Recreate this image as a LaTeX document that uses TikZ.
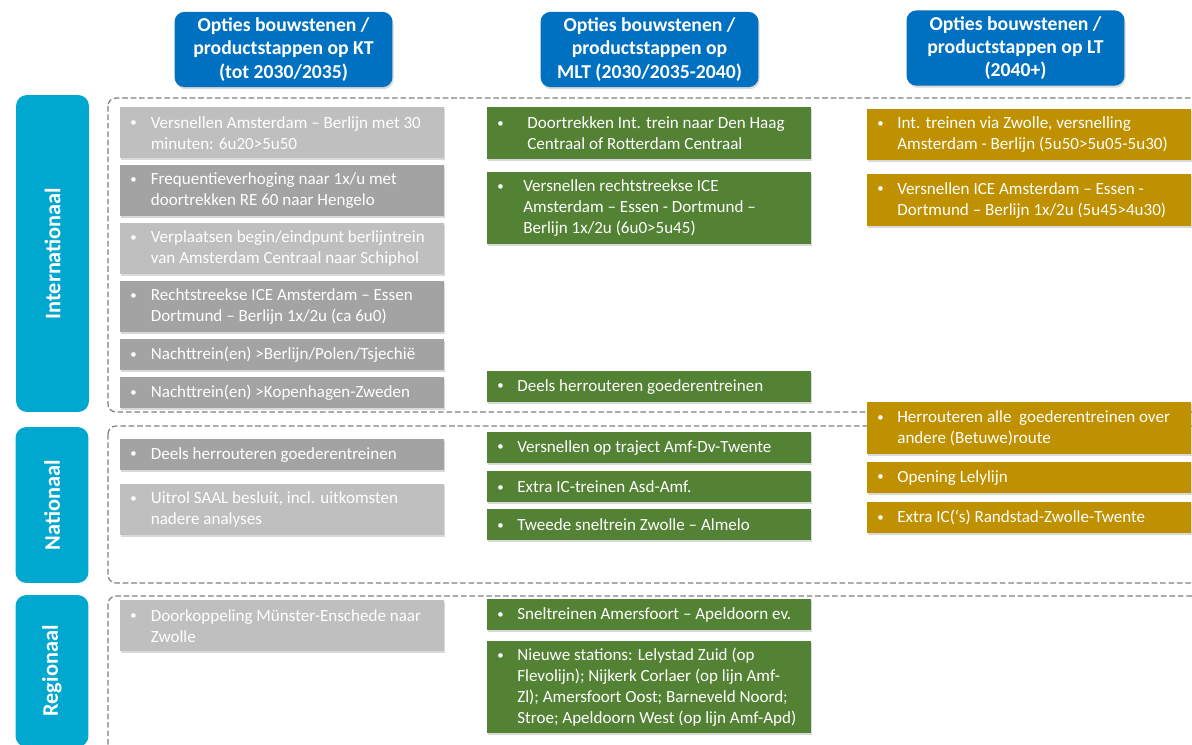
\documentclass[tikz,border=0pt]{standalone}
\usepackage{fontspec}
\setmainfont{Carlito}
\usepackage{xcolor}
\usetikzlibrary{positioning, shadows}

\definecolor{kopblauw}{HTML}{0070C0}
\definecolor{niveaublauw}{HTML}{00A7CE}
\definecolor{grijslicht}{HTML}{BFBFBF}
\definecolor{grijsdonker}{HTML}{A3A3A3}
\definecolor{middelgroen}{HTML}{548235}
\definecolor{langgoud}{HTML}{BF9000}
\definecolor{kadergrijs}{HTML}{7F7F7F}

\newcommand{\optie}[2][0.41cm]{\hspace*{0.2cm}\makebox[#1][l]{\raisebox{0.08em}{\scalebox{0.75}{\textbullet}}}\parbox[t]{\dimexpr 6.28cm-#1\relax}{\raggedright #2}}

\begin{document}
\begin{tikzpicture}[
            x=0.02cm, y=-0.02cm,
            schaduw/.style={drop shadow={shadow xshift=0.6pt, shadow yshift=-1.2pt, opacity=0.3}},
            kop/.style={rounded corners=0.2cm, fill=kopblauw, text=white, align=center,
                font=\bfseries\fontsize{11.2}{13.3}\selectfont,
                minimum width=4.36cm, minimum height=1.46cm, schaduw},
            niveau/.style={rounded corners=0.22cm, fill=niveaublauw, text=white, rotate=90,
                font=\bfseries\fontsize{12.7}{15}\selectfont, minimum height=1.46cm},
            kader/.style={draw=kadergrijs, line width=0.7pt, dash pattern=on 3.2pt off 1.6pt,
                rounded corners=0.16cm},
            optie/.style={anchor=north west, inner xsep=0pt, inner ysep=0pt, text=white,
                minimum width=6.48cm, font=\fontsize{9.7}{11.9}\selectfont, schaduw},
            enkel/.style={minimum height=0.62cm},
            dubbel/.style={minimum height=1.02cm},
            licht/.style={optie, fill=grijslicht},
            donker/.style={optie, fill=grijsdonker},
            groen/.style={optie, fill=middelgroen},
            goud/.style={optie, fill=langgoud},
        ]
            \useasboundingbox (0,0) rectangle (1192,744);
            \clip (0,0) rectangle (1192,744);

            \node[kop] (kopkt) at (283.5,49.5) {Opties bouwstenen /\\productstappen op KT\\(tot 2030/2035)};
            \node[kop] (kopmlt) at (649.5,49.5) {Opties bouwstenen /\\productstappen op\\MLT (2030/2035-2040)};
            \node[kop] (koplt) at (1015.5,48) {Opties bouwstenen /\\productstappen op LT\\(2040+)};

            \node[niveau, minimum width=6.34cm] (internationaal) at (52.5,253.5) {Internationaal};
            \node[niveau, minimum width=3.12cm] (nationaal) at (52,505) {Nationaal};
            \node[niveau, minimum width=3.04cm] (regionaal) at (52,671) {Regionaal};

            \draw[kader] (108,98) rectangle (1230,412);
            \draw[kader] (108,426) rectangle (1230,583);
            \draw[kader] (108,596) rectangle (1230,780);

            \node[licht, dubbel] (kt1) at (120,107) {\optie{Versnellen Amsterdam – Berlijn met 30\\minuten: 6u20>5u50}};
            \node[donker, dubbel] (kt2) at (120,165) {\optie{Frequentieverhoging naar 1x/u met\\doortrekken RE 60 naar Hengelo}};
            \node[licht, dubbel] (kt3) at (120,223) {\optie{Verplaatsen begin/eindpunt berlijntrein\\van Amsterdam Centraal naar Schiphol}};
            \node[donker, dubbel] (kt4) at (120,281) {\optie{Rechtstreekse ICE Amsterdam – Essen\\Dortmund – Berlijn 1x/2u (ca 6u0)}};
            \node[donker, enkel] (kt5) at (120,339) {\optie{Nachttrein(en) >Berlijn/Polen/Tsjechië}};
            \node[donker, enkel] (kt6) at (120,377) {\optie{Nachttrein(en) >Kopenhagen-Zweden}};
            \node[donker, enkel] (kt7) at (120,439) {\optie{Deels herrouteren goederentreinen}};
            \node[licht, dubbel] (kt8) at (120,484) {\optie{Uitrol SAAL besluit, incl. uitkomsten\\nadere analyses}};
            \node[licht, dubbel] (kt9) at (120,600) {\optie{Doorkoppeling Münster-Enschede naar\\Zwolle}};

            \node[groen, minimum height=1.04cm] (mlt1) at (487,107) {\optie[0.6cm]{Doortrekken Int. trein naar Den Haag\\Centraal of Rotterdam Centraal}};
            \node[groen, minimum height=1.44cm] (mlt2) at (487,172) {\optie[0.52cm]{Versnellen rechtstreekse ICE\\Amsterdam – Essen - Dortmund –\\Berlijn 1x/2u (6u0>5u45)}};
            \node[groen, enkel] (mlt3) at (487,371) {\optie[0.4cm]{Deels herrouteren goederentreinen}};
            \node[groen, enkel] (mlt4) at (487,432) {\optie[0.4cm]{Versnellen op traject Amf-Dv-Twente}};
            \node[groen, enkel] (mlt5) at (487,471) {\optie[0.4cm]{Extra IC-treinen Asd-Amf.}};
            \node[groen, enkel] (mlt6) at (487,509) {\optie[0.4cm]{Tweede sneltrein Zwolle – Almelo}};
            \node[groen, enkel] (mlt7) at (487,599) {\optie[0.4cm]{Sneltreinen Amersfoort – Apeldoorn ev.}};
            \node[groen, minimum height=1.84cm] (mlt8) at (487,641) {\optie[0.4cm]{Nieuwe stations: Lelystad Zuid (op\\Flevolijn); Nijkerk Corlaer (op lijn Amf-\\Zl); Amersfoort Oost; Barneveld Noord;\\Stroe; Apeldoorn West (op lijn Amf-Apd)}};

            \node[goud, dubbel] (lt1) at (867,109) {\optie[0.4cm]{Int. treinen via Zwolle, versnelling\\Amsterdam - Berlijn (5u50>5u05-5u30)}};
            \node[goud, minimum height=1.04cm] (lt2) at (867,174) {\optie[0.4cm]{Versnellen ICE Amsterdam – Essen -\\Dortmund – Berlijn 1x/2u (5u45>4u30)}};
            \node[goud, minimum height=1.04cm] (lt3) at (867,402) {\optie[0.4cm]{Herrouteren alle\ \ goederentreinen over\\andere (Betuwe)route}};
            \node[goud, enkel] (lt4) at (867,462) {\optie[0.4cm]{Opening Lelylijn}};
            \node[goud, enkel] (lt5) at (867,502) {\optie[0.4cm]{Extra IC(‘s) Randstad-Zwolle-Twente}};
        \end{tikzpicture}
\end{document}
